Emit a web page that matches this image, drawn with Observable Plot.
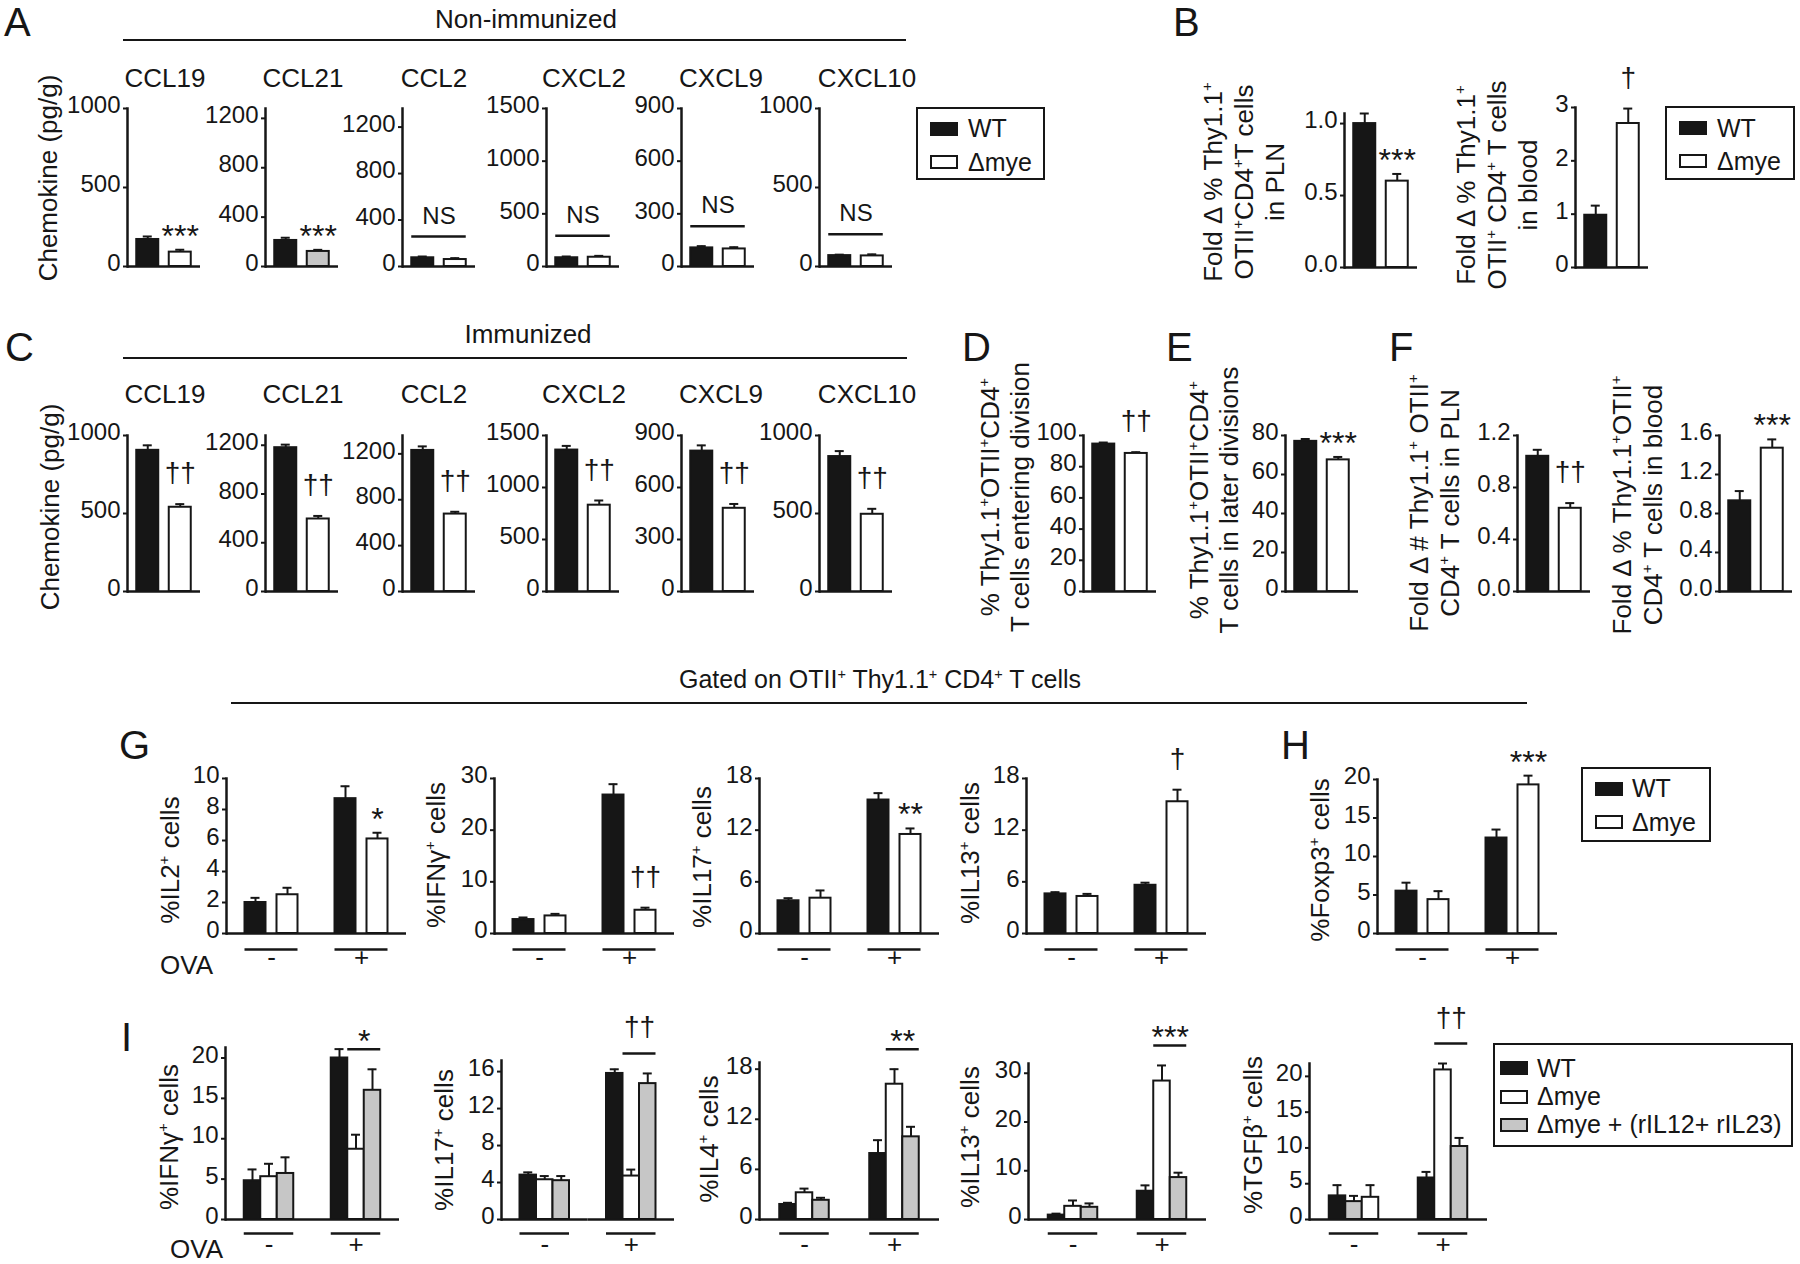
<!DOCTYPE html>
<html>
<head>
<meta charset="utf-8">
<script src="https://cdn.jsdelivr.net/npm/d3@7"></script>
<script src="https://cdn.jsdelivr.net/npm/@observablehq/plot@0.6"></script>
<style>
html,body{margin:0;padding:0;background:#fff;}
#fig{position:relative;width:1800px;height:1264px;overflow:hidden;font-family:"Liberation Sans",Arial,Helvetica,sans-serif;color:#161616;}
#fig .t{position:absolute;white-space:nowrap;}
#fig .vl{position:absolute;white-space:nowrap;text-align:center;transform-origin:50% 50%;}
#fig sup{font-size:58%;line-height:0;vertical-align:super;}
#fig .hr{position:absolute;height:2.5px;background:#161616;}
#fig .lg{position:absolute;border:2px solid #161616;box-sizing:border-box;}
#fig .sw{position:absolute;width:28px;height:14px;border:2px solid #161616;box-sizing:border-box;}
#fig svg g[aria-label="y-axis tick"]{stroke-width:2px;}
</style>
</head>
<body>
<div id="fig"></div>
<script>
// ======================= DATA =======================
// Panels A & C: chemokines in lymph nodes
const chemokines = ["CCL19", "CCL21", "CCL2", "CXCL2", "CXCL9", "CXCL10"];
const chemokineYMax = [1000, 1280, 1360, 1500, 900, 1000];
const chemokineTicks = [[0, 500, 1000], [0, 400, 800, 1200], [0, 400, 800, 1200], [0, 500, 1000, 1500], [0, 300, 600, 900], [0, 500, 1000]];
const nonImmWT = [171, 211, 75, 83, 106, 69];
const nonImmWTErr = [19, 22, 11, 12, 10, 6];
const nonImmMye = [91, 122, 60, 88, 100, 67];
const nonImmMyeErr = [15, 13, 12, 13, 10, 10];
const nonImmSig = ["***", "***", "NS", "NS", "NS", "NS"];
const immWT = [905, 1180, 1230, 1360, 810, 865];
const immWTErr = [32, 25, 35, 40, 33, 35];
const immMye = [540, 595, 675, 830, 480, 495];
const immMyeErr = [20, 25, 20, 45, 25, 35];
const immSig = ["††", "††", "††", "††", "††", "††"];

// Panel B
const bLabels = [
  ["Fold Δ % Thy1.1<sup>+</sup>", "OTII<sup>+</sup>CD4<sup>+</sup>T cells", "in PLN"],
  ["Fold Δ % Thy1.1<sup>+</sup>", "OTII<sup>+</sup> CD4<sup>+</sup> T cells", "in blood"]
];
const bYMax = [1.07, 3];
const bTicks = [[0, 0.5, 1.0], [0, 1, 2, 3]];
const bWT = [1.0, 0.98];
const bWTErr = [0.07, 0.18];
const bMye = [0.6, 2.7];
const bMyeErr = [0.05, 0.28];
const bSig = ["***", "†"];

// Panels D & E
const deLabels = [
  ["% Thy1.1<sup>+</sup>OTII<sup>+</sup>CD4<sup>+</sup>", "T cells entering division"],
  ["% Thy1.1<sup>+</sup>OTII<sup>+</sup>CD4<sup>+</sup>", "T cells in later divisions"]
];
const deYMax = [100, 80];
const deTicks = [[0, 20, 40, 60, 80, 100], [0, 20, 40, 60, 80]];
const deWT = [94.5, 77];
const deWTErr = [1.0, 1.2];
const deMye = [88.5, 67.5];
const deMyeErr = [0.8, 1.5];
const deSig = ["††", "***"];

// Panel F
const fLabels = [
  ["Fold Δ # Thy1.1<sup>+</sup> OTII<sup>+</sup>", "CD4<sup>+</sup> T cells in PLN"],
  ["Fold Δ % Thy1.1<sup>+</sup>OTII<sup>+</sup>", "CD4<sup>+</sup> T cells in blood"]
];
const fYMax = [1.2, 1.6];
const fTicks = [[0, 0.4, 0.8, 1.2], [0, 0.4, 0.8, 1.2, 1.6]];
const fWT = [1.04, 0.93];
const fWTErr = [0.05, 0.1];
const fMye = [0.64, 1.47];
const fMyeErr = [0.04, 0.09];
const fSig = ["††", "***"];

// Panels G & H (OVA - / +)
const ovaGroups = ["-", "+"];
const ghLabels = ["%IL2<sup>+</sup> cells", "%IFNγ<sup>+</sup> cells", "%IL17<sup>+</sup> cells", "%IL13<sup>+</sup> cells", "%Foxp3<sup>+</sup> cells"];
const ghYMax = [10, 30, 18, 18, 20];
const ghTicks = [[0, 2, 4, 6, 8, 10], [0, 10, 20, 30], [0, 6, 12, 18], [0, 6, 12, 18], [0, 5, 10, 15, 20]];
const ghWT = [[2.0, 8.7], [2.7, 26.8], [3.8, 15.5], [4.6, 5.6], [5.5, 12.4]];
const ghWTErr = [[0.3, 0.8], [0.4, 2.1], [0.3, 0.8], [0.2, 0.3], [1.1, 1.1]];
const ghMye = [[2.5, 6.1], [3.4, 4.5], [4.1, 11.5], [4.3, 15.3], [4.4, 19.3]];
const ghMyeErr = [[0.45, 0.4], [0.4, 0.5], [0.9, 0.7], [0.3, 1.4], [1.1, 1.2]];
const ghSig = ["*", "††", "**", "†", "***"];

// Panel I (three groups)
const iLabels = ["%IFNγ<sup>+</sup> cells", "%IL17<sup>+</sup> cells", "%IL4<sup>+</sup> cells", "%IL13<sup>+</sup> cells", "%TGFβ<sup>+</sup> cells"];
const iYMax = [21.3, 17.2, 18.8, 32, 21.8];
const iTicks = [[0, 5, 10, 15, 20], [0, 4, 8, 12, 16], [0, 6, 12, 18], [0, 10, 20, 30], [0, 5, 10, 15, 20]];
const iWT = [[4.8, 20.0], [4.8, 15.8], [1.8, 7.9], [0.9, 5.8], [3.3, 5.8]];
const iWTErr = [[1.4, 1.1], [0.3, 0.45], [0.2, 1.6], [0.3, 1.2], [1.5, 0.85]];
const iMye = [[5.3, 8.7], [4.3, 4.7], [3.2, 16.2], [2.7, 28.4], [3.1, 20.9]];
const iMyeErr = [[1.6, 1.8], [0.4, 0.7], [0.5, 1.8], [1.2, 3.2], [1.7, 0.9]];
const iRescue = [[5.7, 16.0], [4.2, 14.7], [2.3, 9.9], [2.5, 8.6], [2.5, 10.2]];
const iRescueErr = [[2.0, 2.6], [0.5, 1.1], [0.3, 1.2], [0.8, 1.0], [0.8, 1.2]];
const iBarOrder = [
  [["WT", "mye", "rescue"], ["WT", "mye", "rescue"]],
  [["WT", "mye", "rescue"], ["WT", "mye", "rescue"]],
  [["WT", "mye", "rescue"], ["WT", "mye", "rescue"]],
  [["WT", "mye", "rescue"], ["WT", "mye", "rescue"]],
  [["WT", "rescue", "mye"], ["WT", "mye", "rescue"]]
];
const iSig = ["*", "††", "**", "***", "††"];

const seriesNames = {WT: "WT", mye: "Δmye", rescue: "Δmye + (rIL12+ rIL23)"};

// ======================= STYLE / LAYOUT =======================
const FONT = '"Liberation Sans", Arial, Helvetica, sans-serif';
const INK = "#161616";
const FILL = {WT: INK, mye: "#ffffff", rescue: "#c6c6c6", gray: "#c6c6c6"};
const fig = document.getElementById("fig");

function addText(html, x, base, size, anchor = "start") {
  const d = document.createElement("div");
  d.className = "t";
  d.innerHTML = html;
  d.style.fontSize = size + "px";
  d.style.lineHeight = size + "px";
  d.style.top = (base - 0.85 * size) + "px";
  d.style.left = x + "px";
  if (anchor === "middle") d.style.transform = "translateX(-50%)";
  fig.appendChild(d);
}
function addVLabel(lines, cx, cy, size = 26, lh = 31) {
  const d = document.createElement("div");
  d.className = "vl";
  d.innerHTML = lines.join("<br>");
  d.style.fontSize = size + "px";
  d.style.lineHeight = lh + "px";
  d.style.left = cx + "px";
  d.style.top = cy + "px";
  d.style.transform = "translate(-50%,-50%) rotate(-90deg)";
  fig.appendChild(d);
}
function addRule(x1, x2, y) {
  const d = document.createElement("div");
  d.className = "hr";
  d.style.left = x1 + "px";
  d.style.width = (x2 - x1) + "px";
  d.style.top = (y - 1.25) + "px";
  fig.appendChild(d);
}
function addLegend(box, series, swX, swTops, txtX, txtBases) {
  const b = document.createElement("div");
  b.className = "lg";
  b.style.left = box[0] + "px"; b.style.top = box[1] + "px";
  b.style.width = box[2] + "px"; b.style.height = box[3] + "px";
  fig.appendChild(b);
  series.forEach((s, k) => {
    const sw = document.createElement("div");
    sw.className = "sw";
    sw.style.left = swX + "px"; sw.style.top = swTops[k] + "px";
    sw.style.background = FILL[s];
    fig.appendChild(sw);
    addText(seriesNames[s], txtX, txtBases[k], 25);
  });
}

const isDagger = s => s.includes("†");
function sigOverBar(text, row, F = {}) {
  const dag = isDagger(text);
  return Plot.text([row], {...F, x: "slot", y: d => d.v + d.e, text: () => text, lineAnchor: "bottom",
    dy: dag ? -22 : -3, fontSize: dag ? 28 : 32});
}
function nsMarks(rows, step) {
  const t = d3.max(rows, d => d.v + d.e);
  return [
    Plot.ruleY([t], {x1: () => rows[0].slot, x2: () => rows[rows.length - 1].slot, dy: -20, stroke: INK, strokeWidth: 2.5}),
    Plot.text([t], {x: () => rows[0].slot, y: d => d, dx: step / 2, dy: -33, text: () => "NS", lineAnchor: "bottom", fontSize: 24})
  ];
}
function pairSig(text, pair, step) {
  const t = d3.max(pair, d => d.v + d.e);
  const dag = isDagger(text);
  const datum = [{g: pair[0].g, t}];
  return [
    Plot.ruleY(datum, {fx: "g", y: "t", x1: () => pair[0].slot, x2: () => pair[1].slot, dy: -20, stroke: INK, strokeWidth: 2.5}),
    Plot.text(datum, {fx: "g", x: () => pair[0].slot, y: "t", dx: step / 2, dy: dag ? -37 : -17, text: () => text,
      lineAnchor: "bottom", fontSize: dag ? 28 : 32})
  ];
}

function chart(cfg) {
  const {axisX, top, base, width, yMax, ticks, fmt, rows, slots, groups = null,
         barW, gap, extra = [], underDy = 16, labelDy = 32} = cfg;
  const ML = 90, MR = 30, MT = 80, MB = 60;
  const nG = groups ? groups.length : 1;
  const facetW = width / nG;
  const n = slots.length;
  const step = barW + gap;
  const padOuter = (facetW - n * barW - (n - 1) * gap) / 2 / step;
  const cap = Math.max(0, (barW - 9) / 2);
  const F = groups ? {fx: "g"} : {};
  const format = fmt || (d => String(d));
  const marks = [
    Plot.axisY(ticks, {tickSize: 4, fill: "none", stroke: INK, strokeWidth: 2, label: null}),
    Plot.axisY(ticks, {tickSize: 0, tickPadding: 7, dy: -3, tickFormat: format, fontSize: 24, label: null}),
    Plot.ruleX(rows, {...F, x: "slot", y1: "v", y2: d => d.v + d.e, stroke: INK, strokeWidth: 2}),
    Plot.tickY(rows, {...F, x: "slot", y: d => d.v + d.e, stroke: INK, strokeWidth: 2, insetLeft: cap, insetRight: cap}),
    Plot.barY(rows, {...F, x: "slot", y1: 0, y2: "v", fill: d => FILL[d.s], stroke: INK, strokeWidth: 2}),
    Plot.ruleY([0], {stroke: INK, strokeWidth: 2.5}),
    Plot.frame(groups ? {anchor: "left", facetAnchor: "left", stroke: INK, strokeWidth: 2.5}
                      : {anchor: "left", stroke: INK, strokeWidth: 2.5})
  ];
  if (groups) {
    marks.push(
      Plot.ruleY(groups, {fx: d => d, y: () => 0, x1: () => slots[0], x2: () => slots[n - 1], dy: underDy, stroke: INK, strokeWidth: 2.5}),
      Plot.text(groups, {fx: d => d, text: d => d, frameAnchor: "bottom", dy: labelDy, fontSize: 26})
    );
  }
  marks.push(...extra);
  const opts = {
    width: ML + width + MR,
    height: MT + (base - top) + MB,
    marginLeft: ML, marginRight: MR, marginTop: MT, marginBottom: MB,
    style: {fontFamily: FONT, fontSize: "25px", color: INK, background: "transparent", overflow: "visible", maxWidth: "none"},
    x: {domain: slots, paddingInner: gap / step, paddingOuter: padOuter, round: false, axis: null},
    y: {domain: [0, yMax], axis: null},
    marks
  };
  if (groups) opts.fx = {domain: groups, padding: 0, round: false, axis: null};
  const svg = Plot.plot(opts);
  const wrap = document.createElement("div");
  wrap.style.position = "absolute";
  wrap.style.left = (axisX - ML) + "px";
  wrap.style.top = (top - MT) + "px";
  wrap.style.width = opts.width + "px";
  wrap.appendChild(svg);
  fig.appendChild(wrap);
}

const STEP1 = 22 + 10.5;
function twoBar(axisX, top, base, yMax, ticks, fmt, wt, wtE, mye, myeE, sig, myeKind = "mye") {
  const rows = [{slot: "WT", s: "WT", v: wt, e: wtE}, {slot: "mye", s: myeKind, v: mye, e: myeE}];
  const extra = sig === "NS" ? nsMarks(rows, STEP1) : [sigOverBar(sig, rows[1])];
  chart({axisX, top, base, width: 73, yMax, ticks, fmt, rows, slots: ["WT", "mye"], barW: 22, gap: 10.5, extra});
}

// ======================= PANEL LETTERS & HEADERS =======================
addText("A", 4, 36, 40);
addText("B", 1173, 36, 40);
addText("C", 5, 361, 40);
addText("D", 962, 361, 40);
addText("E", 1166, 361, 40);
addText("F", 1389, 361, 40);
addText("G", 119, 759, 40);
addText("H", 1281, 759, 40);
addText("I", 121, 1051, 40);

addText("Non-immunized", 526, 28, 26, "middle");
addRule(123, 906, 40);
addText("Immunized", 528, 343, 26, "middle");
addRule(123, 907, 358);
addText("Gated on OTII<sup>+</sup> Thy1.1<sup>+</sup> CD4<sup>+</sup> T cells", 880, 688, 25, "middle");
addRule(231, 1527, 703);

// ======================= A & C =======================
const chemAxisX = [126.5, 265, 402, 545.5, 681, 819];
const chemTitleX = [165, 303, 434, 584, 721, 867];
chemokines.forEach((c, i) => {
  twoBar(chemAxisX[i], 108, 266, chemokineYMax[i], chemokineTicks[i], null,
         nonImmWT[i], nonImmWTErr[i], nonImmMye[i], nonImmMyeErr[i], nonImmSig[i], c === "CCL21" ? "gray" : "mye");
  addText(c, chemTitleX[i], 87, 26, "middle");
  twoBar(chemAxisX[i], 435, 591, chemokineYMax[i], chemokineTicks[i], null,
         immWT[i], immWTErr[i], immMye[i], immMyeErr[i], immSig[i]);
  addText(c, chemTitleX[i], 403, 26, "middle");
});
addVLabel(["Chemokine (pg/g)"], 48, 178, 26);
addVLabel(["Chemokine (pg/g)"], 50, 507, 26);
addLegend([916, 107, 129, 73], ["WT", "mye"], 930, [122, 155], 968, [137, 171]);

// ======================= B =======================
const bAxisX = [1344, 1575];
const bTop = [113, 107];
const bLabelPos = [[1244, 182], [1497, 185]];
bLabels.forEach((lab, i) => {
  twoBar(bAxisX[i], bTop[i], 267, bYMax[i], bTicks[i], i === 0 ? d3.format(".1f") : null,
         bWT[i], bWTErr[i], bMye[i], bMyeErr[i], bSig[i]);
  addVLabel(lab, bLabelPos[i][0], bLabelPos[i][1], 26, 31);
});
addLegend([1665, 106, 130, 74], ["WT", "mye"], 1679, [121, 154], 1717, [137, 170]);

// ======================= D, E, F =======================
const deAxisX = [1083, 1285];
const deLabelPos = [[1005, 497], [1214, 500]];
deLabels.forEach((lab, i) => {
  twoBar(deAxisX[i], 435, 591, deYMax[i], deTicks[i], null, deWT[i], deWTErr[i], deMye[i], deMyeErr[i], deSig[i]);
  addVLabel(lab, deLabelPos[i][0], deLabelPos[i][1], 26, 30);
});
const fAxisX = [1517, 1719];
const fLabelPos = [[1435, 503], [1638, 505]];
fLabels.forEach((lab, i) => {
  twoBar(fAxisX[i], 435, 591, fYMax[i], fTicks[i], d3.format(".1f"), fWT[i], fWTErr[i], fMye[i], fMyeErr[i], fSig[i]);
  addVLabel(lab, fLabelPos[i][0], fLabelPos[i][1], 26, 31);
});

// ======================= G & H =======================
const ghAxisX = [226, 494, 759, 1026, 1377];
const ghLabelPos = [[170, 860], [436, 855], [702, 857], [970, 853], [1320, 860]];
ghLabels.forEach((lab, i) => {
  const rows = [];
  ovaGroups.forEach((g, j) => {
    rows.push({g, slot: "WT", s: "WT", v: ghWT[i][j], e: ghWTErr[i][j]});
    rows.push({g, slot: "mye", s: "mye", v: ghMye[i][j], e: ghMyeErr[i][j]});
  });
  const target = rows.find(d => d.g === "+" && d.slot === "mye");
  chart({axisX: ghAxisX[i], top: i === 4 ? 779 : 778, base: 933, width: 180, yMax: ghYMax[i], ticks: ghTicks[i],
         rows, slots: ["WT", "mye"], groups: ovaGroups, barW: 21, gap: 11,
         extra: [sigOverBar(ghSig[i], target, {fx: "g"})], underDy: 16, labelDy: 32});
  addVLabel([lab], ghLabelPos[i][0], ghLabelPos[i][1], 26);
});
addText("OVA", 160, 974, 26);
addLegend([1581, 767, 130, 75], ["WT", "mye"], 1595, [782, 815], 1632, [797, 831]);

// ======================= I =======================
const iSeries = {WT: [iWT, iWTErr], mye: [iMye, iMyeErr], rescue: [iRescue, iRescueErr]};
const iAxisX = [225, 501, 759, 1028, 1309];
const iTop = [1047, 1060, 1062, 1063, 1063];
const iWidth = [174, 173, 180, 178, 178];
const iLabelPos = [[169, 1137], [444, 1140], [709, 1139], [970, 1137], [1253, 1135]];
iLabels.forEach((lab, i) => {
  const rows = [];
  ovaGroups.forEach((g, j) => {
    iBarOrder[i][j].forEach((s, k) => rows.push({g, slot: k, s, v: iSeries[s][0][i][j], e: iSeries[s][1][i][j]}));
  });
  const pair = rows.filter(d => d.g === "+" && d.slot > 0);
  chart({axisX: iAxisX[i], top: iTop[i], base: 1219, width: iWidth[i], yMax: iYMax[i], ticks: iTicks[i],
         rows, slots: [0, 1, 2], groups: ovaGroups, barW: 16.5, gap: 0,
         extra: pairSig(iSig[i], pair, 16.5), underDy: 14, labelDy: 33});
  addVLabel([lab], iLabelPos[i][0], iLabelPos[i][1], 26);
});
addText("OVA", 170, 1258, 26);
addLegend([1493, 1043, 300, 104], ["WT", "mye", "rescue"], 1500, [1061, 1090, 1118], 1537, [1077, 1105, 1133]);
</script>
</body>
</html>
